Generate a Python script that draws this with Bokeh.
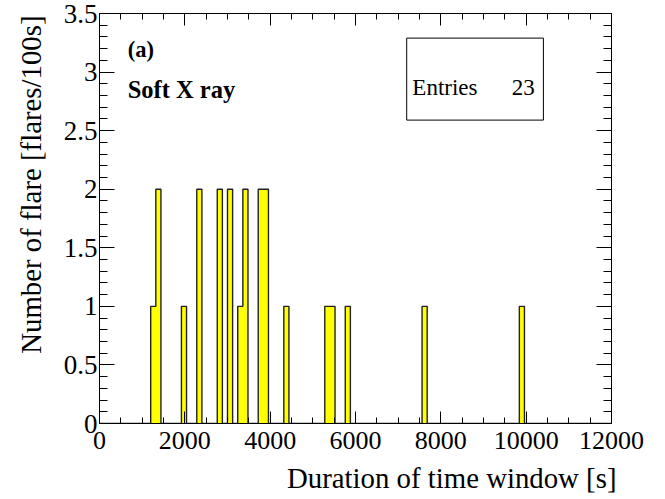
import numpy as np
from bokeh.plotting import figure
from bokeh.models import (LinearAxis, Range1d, FixedTicker, Label, Title,
                          BoxAnnotation)
from bokeh.embed import file_html
from bokeh.resources import INLINE

# ---- data -------------------------------------------------------------
x_min, x_max, n_bins = 0, 12000, 100
bin_low = [1200, 1320, 1920, 2280, 2760, 3000, 3240, 3360,
           3720, 3840, 4320, 5280, 5400, 5760, 7560, 9840]
bin_count = [1, 2, 1, 2, 2, 2, 1, 2, 2, 2, 1, 1, 1, 1, 1, 1]
entries = 23

x_major = [0, 2000, 4000, 6000, 8000, 10000, 12000]
x_minor = [v for v in range(0, 12001, 500)]
y_major = [0, 0.5, 1, 1.5, 2, 2.5, 3, 3.5]
y_minor = [round(i * 0.1, 1) for i in range(0, 36)]
y_labels = ["0", "0.5", "1", "1.5", "2", "2.5", "3", "3.5"]
x_labels = ["0", "2000", "4000", "6000", "8000", "10000", "12000"]

x_title = "Duration of time window [s]"
y_title = "Number of flare [flares/100s]"
tag_text = "(a)"
band_text = "Soft X ray"

# ---- histogram -----------------------------------------------------------
bw = (x_max - x_min) / n_bins
edges = np.linspace(x_min, x_max, n_bins + 1)
counts = np.zeros(n_bins)
for lo, c in zip(bin_low, bin_count):
    counts[int(round((lo - x_min) / bw))] = c

FONT = "Liberation Serif"
y_min, y_max = 0, 3.5

p = figure(frame_width=512, frame_height=410,
           min_border_left=99, min_border_right=37,
           min_border_top=13, min_border_bottom=10,
           x_range=Range1d(x_min, x_max), y_range=Range1d(y_min, y_max),
           output_backend="svg", toolbar_location=None,
           x_axis_location=None, y_axis_location=None)
p.grid.visible = False
p.background_fill_color = "white"
p.border_fill_color = "white"
p.outline_line_color = "black"
p.outline_line_width = 1

lefts = np.array(bin_low, dtype=float)
p.quad(left=lefts, right=lefts + bw, bottom=0, top=bin_count,
       fill_color="#ffff00", line_color=None)
p.step(x=edges, y=np.append(counts, counts[-1]), mode="after",
       line_color="#222222", line_width=1.4)

def make_axis(side, major, minor, labels, tick_in, minor_in, show, size="26px"):
    ax = LinearAxis(ticker=FixedTicker(ticks=major, minor_ticks=minor))
    ax.axis_line_color = "black"
    ax.major_tick_in = tick_in
    ax.major_tick_out = 0
    ax.minor_tick_in = minor_in
    ax.minor_tick_out = 0
    ax.major_tick_line_color = "black"
    ax.minor_tick_line_color = "black"
    ax.major_label_overrides = {m: l for m, l in zip(major, labels)}
    if show:
        ax.major_label_text_font = FONT
        ax.major_label_text_font_size = size
        ax.major_label_text_color = "black"
    else:
        ax.major_label_text_font_size = "0px"
        ax.major_label_standoff = 0
    p.add_layout(ax, side)
    return ax

xa = make_axis("below", x_major, x_minor, x_labels, 12, 6, True, "26px")
xa.major_label_standoff = 8
ya = make_axis("left", y_major, y_minor, y_labels, 15, 8, True, "27px")
ya.major_label_standoff = 2
make_axis("above", x_major, x_minor, [""] * len(x_major), 12, 6, False)
make_axis("right", y_major, y_minor, [""] * len(y_major), 15, 8, False)

xt = Title(text=x_title, align="right", text_font=FONT,
           text_font_size="28.8px", text_font_style="normal",
           text_color="black", standoff=17, offset=-5)
p.add_layout(xt, "below")
yt = Title(text=y_title, align="right", vertical_align="top",
           text_font=FONT, text_font_size="28.8px",
           text_font_style="normal", text_color="black",
           standoff=24, offset=2)
p.add_layout(yt, "left")

# ---- stats box and labels --------------------------------------------
xs = x_max - x_min
ys = y_max - y_min
p.add_layout(BoxAnnotation(left=x_min + 0.6 * xs, right=x_min + 0.867 * xs,
                           bottom=y_min + 0.74 * ys, top=y_min + 0.94 * ys,
                           fill_color="white", fill_alpha=1,
                           line_color="black", line_alpha=1, line_width=1))
p.add_layout(Label(x=x_min + 0.611 * xs, y=y_min + 0.82 * ys,
                   text="Entries", text_font=FONT, text_font_size="23px",
                   text_color="black", text_baseline="alphabetic"))
p.add_layout(Label(x=x_min + 0.85 * xs, y=y_min + 0.82 * ys,
                   text=str(entries), text_font=FONT, text_font_size="23px",
                   text_color="black", text_align="right",
                   text_baseline="alphabetic"))
p.add_layout(Label(x=x_min + 0.055 * xs, y=y_min + 0.912 * ys,
                   text=tag_text, text_font=FONT, text_font_size="22.5px",
                   text_color="black", text_font_style="bold",
                   text_baseline="alphabetic"))
p.add_layout(Label(x=x_min + 0.055 * xs, y=y_min + 0.815 * ys,
                   text=band_text, text_font=FONT, text_font_size="24.5px",
                   text_color="black", text_font_style="bold",
                   text_baseline="alphabetic"))

open("out.html", "w").write(file_html(p, INLINE))
